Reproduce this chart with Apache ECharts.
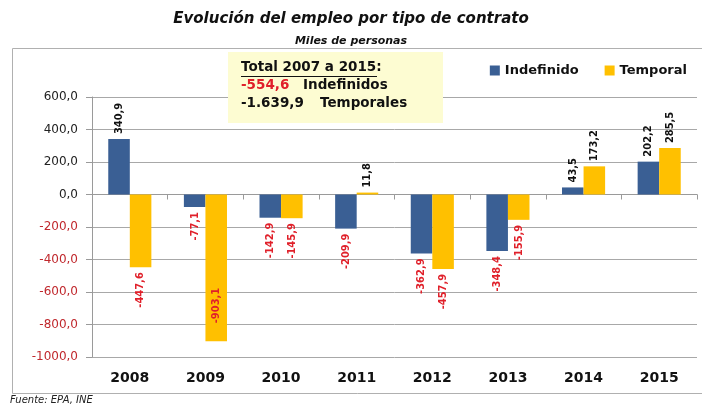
<!DOCTYPE html>
<html>
<head>
<meta charset="utf-8">
<script src="https://cdn.jsdelivr.net/npm/echarts@6/dist/echarts.min.js"></script>
<style>
  html, body { margin: 0; padding: 0; background: #fff; }
  #chart { width: 702px; height: 405px; }
</style>
</head>
<body>
<div id="chart"></div>
<script>
// data (miles de personas)
var years = ['2008', '2009', '2010', '2011', '2012', '2013', '2014', '2015']
var indefinido = [340.9, -77.1, -142.9, -209.9, -362.9, -348.4, 43.5, 202.2]
var temporal = [-447.6, -903.1, -145.9, 11.8, -457.9, -155.9, 173.2, 285.5]

var RED = '#e0202a'
var BLUE = '#3a5f94'
var YELLOW = '#ffc000'
var NARROW = '"Liberation Sans Narrow", "DejaVu Sans Condensed", "Liberation Sans", sans-serif'

function fmt(v) {
  return v.toFixed(1).replace('.', ',')
}

// each bar gets its own label: above for positives, below (red) for negatives,
// and inside the bar when it would run off the bottom of the plot
function withLabels(arr) {
  return arr.map(function(v) {
    var neg = v < 0
    var label
    if (v < -800) {
      label = { position: 'insideBottom', align: 'left', distance: 18, color: RED }
    } else {
      label = {
        position: neg ? 'bottom' : 'top',
        align: neg ? 'right' : 'left',
        color: neg ? RED : '#111'
      }
    }
    return { value: v, label: label }
  })
}

var barLabel = {
  show: true,
  rotate: 90,
  distance: 5,
  verticalAlign: 'middle',
  fontFamily: NARROW,
  fontSize: 11,
  fontWeight: 'bold',
  formatter: function(p) { return fmt(p.value) }
}

var chart = echarts.init(document.getElementById('chart'))

chart.setOption({
  animation: false,
  title: [
    {
      text: 'Evolución del empleo por tipo de contrato',
      left: 'center',
      top: 7,
      textStyle: { fontFamily: 'DejaVu Sans', fontSize: 15, fontWeight: 'bold', fontStyle: 'italic', color: '#111' }
    },
    {
      text: 'Miles de personas',
      left: 'center',
      top: 31,
      textStyle: { fontFamily: 'DejaVu Sans', fontSize: 11, fontWeight: 'bold', fontStyle: 'italic', color: '#111' }
    }
  ],
  legend: {
    right: 10,
    top: 59,
    itemWidth: 10,
    itemHeight: 10,
    itemGap: 26,
    icon: 'rect',
    textStyle: { fontFamily: 'DejaVu Sans', fontSize: 13, fontWeight: 'bold', color: '#111' },
    data: ['Indefinido', 'Temporal']
  },
  grid: {
    left: 92,
    right: 5,
    top: 97,
    bottom: 48
  },
  xAxis: [
    {
      type: 'category',
      data: years,
      axisLine: { show: false, onZero: false },
      axisTick: { show: false },
      axisLabel: {
        margin: 14,
        fontFamily: 'DejaVu Sans',
        fontSize: 14,
        fontWeight: 'bold',
        color: '#111'
      }
    },
    {
      // zero line with the little boundary ticks
      type: 'category',
      data: years,
      position: 'bottom',
      axisLine: { show: true, onZero: true, lineStyle: { color: '#9a9a9a', width: 1 } },
      axisTick: { show: true, length: 5, lineStyle: { color: '#9a9a9a' } },
      axisLabel: { show: false }
    }
  ],
  yAxis: {
    type: 'value',
    min: -1000,
    max: 600,
    interval: 200,
    axisLine: { show: true, lineStyle: { color: '#9a9a9a' } },
    axisTick: { show: true, length: 6, lineStyle: { color: '#9a9a9a' } },
    splitLine: { lineStyle: { color: '#a8a8a8', width: 1 } },
    axisLabel: {
      margin: 14,
      fontFamily: 'DejaVu Sans',
      fontSize: 12,
      formatter: function(v) { return fmt(v) },
      color: function(v) { return Number(v) < 0 ? '#c0282d' : '#222' }
    }
  },
  series: [
    {
      name: 'Indefinido',
      type: 'bar',
      barGap: '0%',
      barCategoryGap: '43%',
      itemStyle: { color: BLUE },
      label: barLabel,
      data: withLabels(indefinido)
    },
    {
      name: 'Temporal',
      type: 'bar',
      itemStyle: { color: YELLOW },
      label: barLabel,
      data: withLabels(temporal)
    }
  ],
  graphic: [
    {
      // outer frame
      type: 'rect',
      z: -10,
      shape: { x: 12.5, y: 48.5, width: 700, height: 345 },
      style: { fill: null, stroke: '#b0b0b0', lineWidth: 1 }
    },
    {
      // totals note
      type: 'rect',
      z: 10,
      shape: { x: 228, y: 52, width: 215, height: 71 },
      style: { fill: '#fdfcd2' }
    },
    {
      type: 'text', z: 11, x: 241, y: 60,
      style: { text: 'Total 2007 a 2015:', fill: '#111', font: 'bold 13.5px "DejaVu Sans"' }
    },
    {
      type: 'line', z: 11,
      shape: { x1: 241, y1: 76.5, x2: 377, y2: 76.5 },
      style: { stroke: '#111', lineWidth: 1 }
    },
    {
      type: 'text', z: 11, x: 241, y: 78,
      style: { text: '-554,6', fill: RED, font: 'bold 13.5px "DejaVu Sans"' }
    },
    {
      type: 'text', z: 11, x: 303, y: 78,
      style: { text: 'Indefinidos', fill: '#111', font: 'bold 13.5px "DejaVu Sans"' }
    },
    {
      type: 'text', z: 11, x: 241, y: 96,
      style: { text: '-1.639,9', fill: '#111', font: 'bold 13.5px "DejaVu Sans"' }
    },
    {
      type: 'text', z: 11, x: 320, y: 96,
      style: { text: 'Temporales', fill: '#111', font: 'bold 13.5px "DejaVu Sans"' }
    },
    {
      type: 'text', x: 10, y: 395,
      style: { text: 'Fuente: EPA, INE', fill: '#222', font: 'italic 10px "DejaVu Sans"' }
    }
  ]
})
</script>
</body>
</html>
